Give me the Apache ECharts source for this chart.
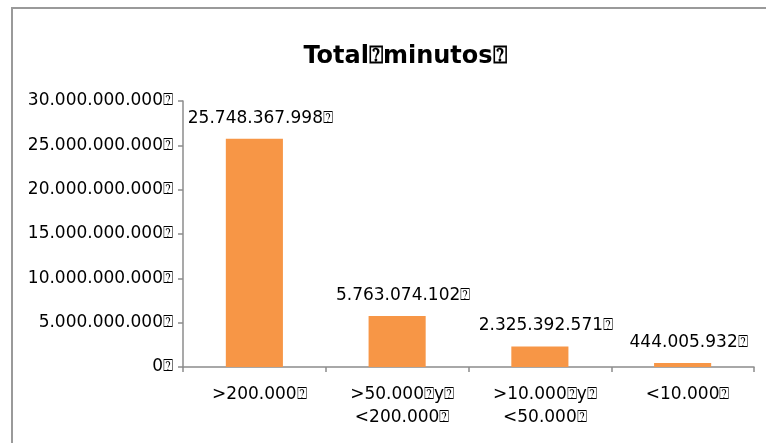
<!DOCTYPE html>
<html>
<head>
<meta charset="utf-8">
<script src="https://cdn.jsdelivr.net/npm/echarts@6/dist/echarts.min.js"></script>
<style>
html,body{margin:0;padding:0;background:#fff;}
#c{width:766px;height:443px;}
</style>
</head>
<body>
<div id="c"></div>
<script>
var BOX = '\u2370';
var titleText = 'Total' + BOX + 'minutos' + BOX;
var categories = ['>200.000' + BOX, '>50.000' + BOX + 'y' + BOX + '\n<200.000' + BOX, '>10.000' + BOX + 'y' + BOX + '\n<50.000' + BOX, '<10.000' + BOX];
var values = [25748367998, 5763074102, 2325392571, 444005932];
var yMin = 0, yMax = 30000000000, yInterval = 5000000000;

function fmt(v){ return String(v).replace(/\B(?=(\d{3})+(?!\d))/g, '.') + BOX; }

var FONT = 'DejaVu Sans';
var chart = echarts.init(document.getElementById('c'));
chart.setOption({
  animation: false,
  backgroundColor: '#fff',
  title: {
    text: titleText,
    left: 400, top: 40, textAlign: 'center',
    textStyle: {fontFamily: FONT, fontSize: 24, fontWeight: 'bold', color: '#000'}
  },
  graphic: [{
    type: 'polyline', silent: true,
    shape: {points: [[12, 443], [12, 8], [766, 8]]},
    style: {stroke: '#9a9a9a', lineWidth: 2, fill: null}
  }],
  grid: {left: 183, top: 101, width: 571, height: 266},
  xAxis: {
    type: 'category', data: categories,
    axisLine: {lineStyle: {color: '#8c8c8c', width: 1.5}},
    axisTick: {show: true, length: 5, lineStyle: {color: '#8c8c8c', width: 1.5}},
    axisLabel: {margin: 16, color: '#000', fontFamily: FONT, fontSize: 17, lineHeight: 23, interval: 0, padding: [0, 0, 0, 10]}
  },
  yAxis: {
    type: 'value', min: yMin, max: yMax, interval: yInterval,
    splitLine: {show: false},
    axisLine: {show: true, lineStyle: {color: '#8c8c8c', width: 1.5}},
    axisTick: {show: true, length: 5, lineStyle: {color: '#8c8c8c', width: 1.5}},
    axisLabel: {margin: 10, color: '#000', fontFamily: FONT, fontSize: 17, formatter: function(v){ return fmt(v); }}
  },
  series: [{
    type: 'bar', data: values, barWidth: '40%',
    itemStyle: {color: '#F79646'},
    label: {show: true, position: 'top', distance: 12, offset: [6, 0], color: '#000', fontFamily: FONT, fontSize: 17,
      formatter: function(p){ return fmt(p.value); }}
  }]
});
</script>
</body>
</html>
